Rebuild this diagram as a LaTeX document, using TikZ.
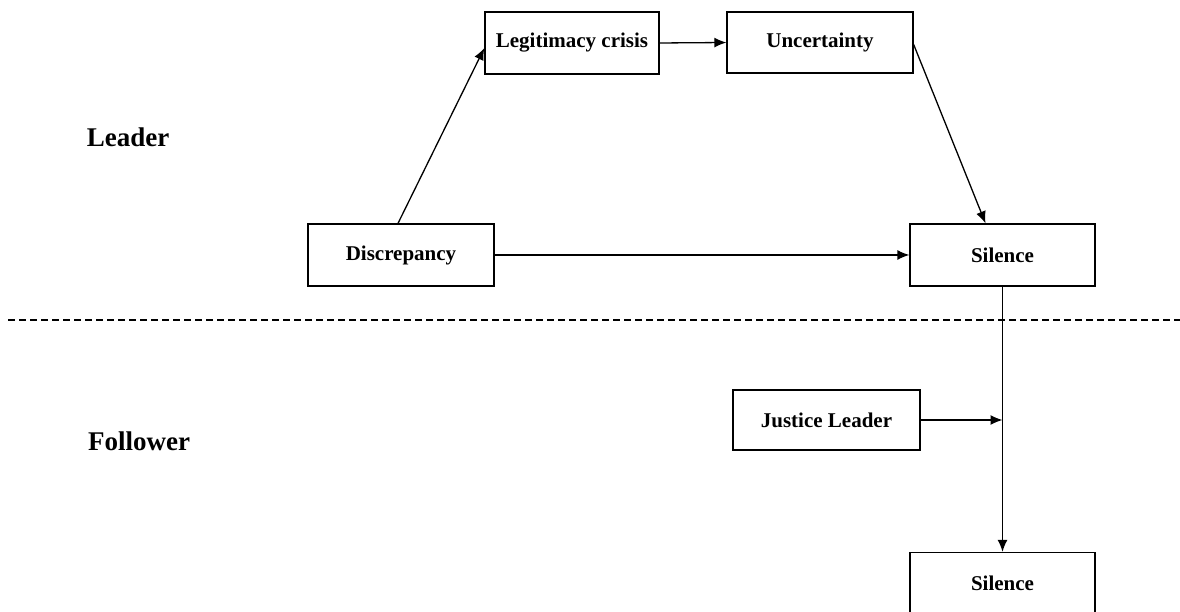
\documentclass[tikz,border=0pt]{standalone}
\usepackage{fontspec}
\setmainfont{Liberation Serif}
\usetikzlibrary{arrows.meta}
\begin{document}
\begin{tikzpicture}[x=1pt,y=1pt,
  box/.style={draw, line width=1.3pt, inner sep=0pt, font=\fontsize{21}{25}\selectfont\bfseries},
  conn/.style={line width=1.3pt, -{Latex[length=12pt,width=10pt]}},
  side/.style={font=\fontsize{27}{32}\selectfont\bfseries}]
\useasboundingbox (0,0) rectangle (1180,612);
\node[box, minimum width=174pt, minimum height=62pt] (leg) at (572,569) {Legitimacy crisis};
\node[box, minimum width=186pt, minimum height=61pt] (unc) at (820,569.5) {Uncertainty};
\node[box, minimum width=186pt, minimum height=62pt] (disc) at (401,357) {Discrepancy};
\node[box, minimum width=185pt, minimum height=62pt] (sil1) at (1002.5,357) {Silence};
\node[box, minimum width=187pt, minimum height=60pt] (just) at (826.5,192) {Justice Leader};
\node[box, minimum width=185pt, minimum height=62pt] (sil2) at (1002.5,28.5) {Silence};
\node[side] (lead) at (128,475) {Leader};
\node[side] (foll) at (139,171) {Follower};
\coordinate (dl) at (8,292);
\coordinate (dr) at (1180,292);
\draw[line width=1.2pt, dash pattern=on 7pt off 4pt] (dl) -- (dr);
\draw[conn] ([xshift=-3pt]disc.north) -- ([yshift=-5pt]leg.west);
\draw[conn] (leg.east) -- (unc.west);
\draw[conn] ([yshift=-2pt]unc.east) -- ([xshift=-17pt]sil1.north);
\draw[conn] (disc.east) -- (sil1.west);
\draw[conn] (sil1.south) -- (sil2.north);
\coordinate (m) at (sil1.south |- just.east);
\draw[conn] (just.east) -- (m);
\end{tikzpicture}
\end{document}
